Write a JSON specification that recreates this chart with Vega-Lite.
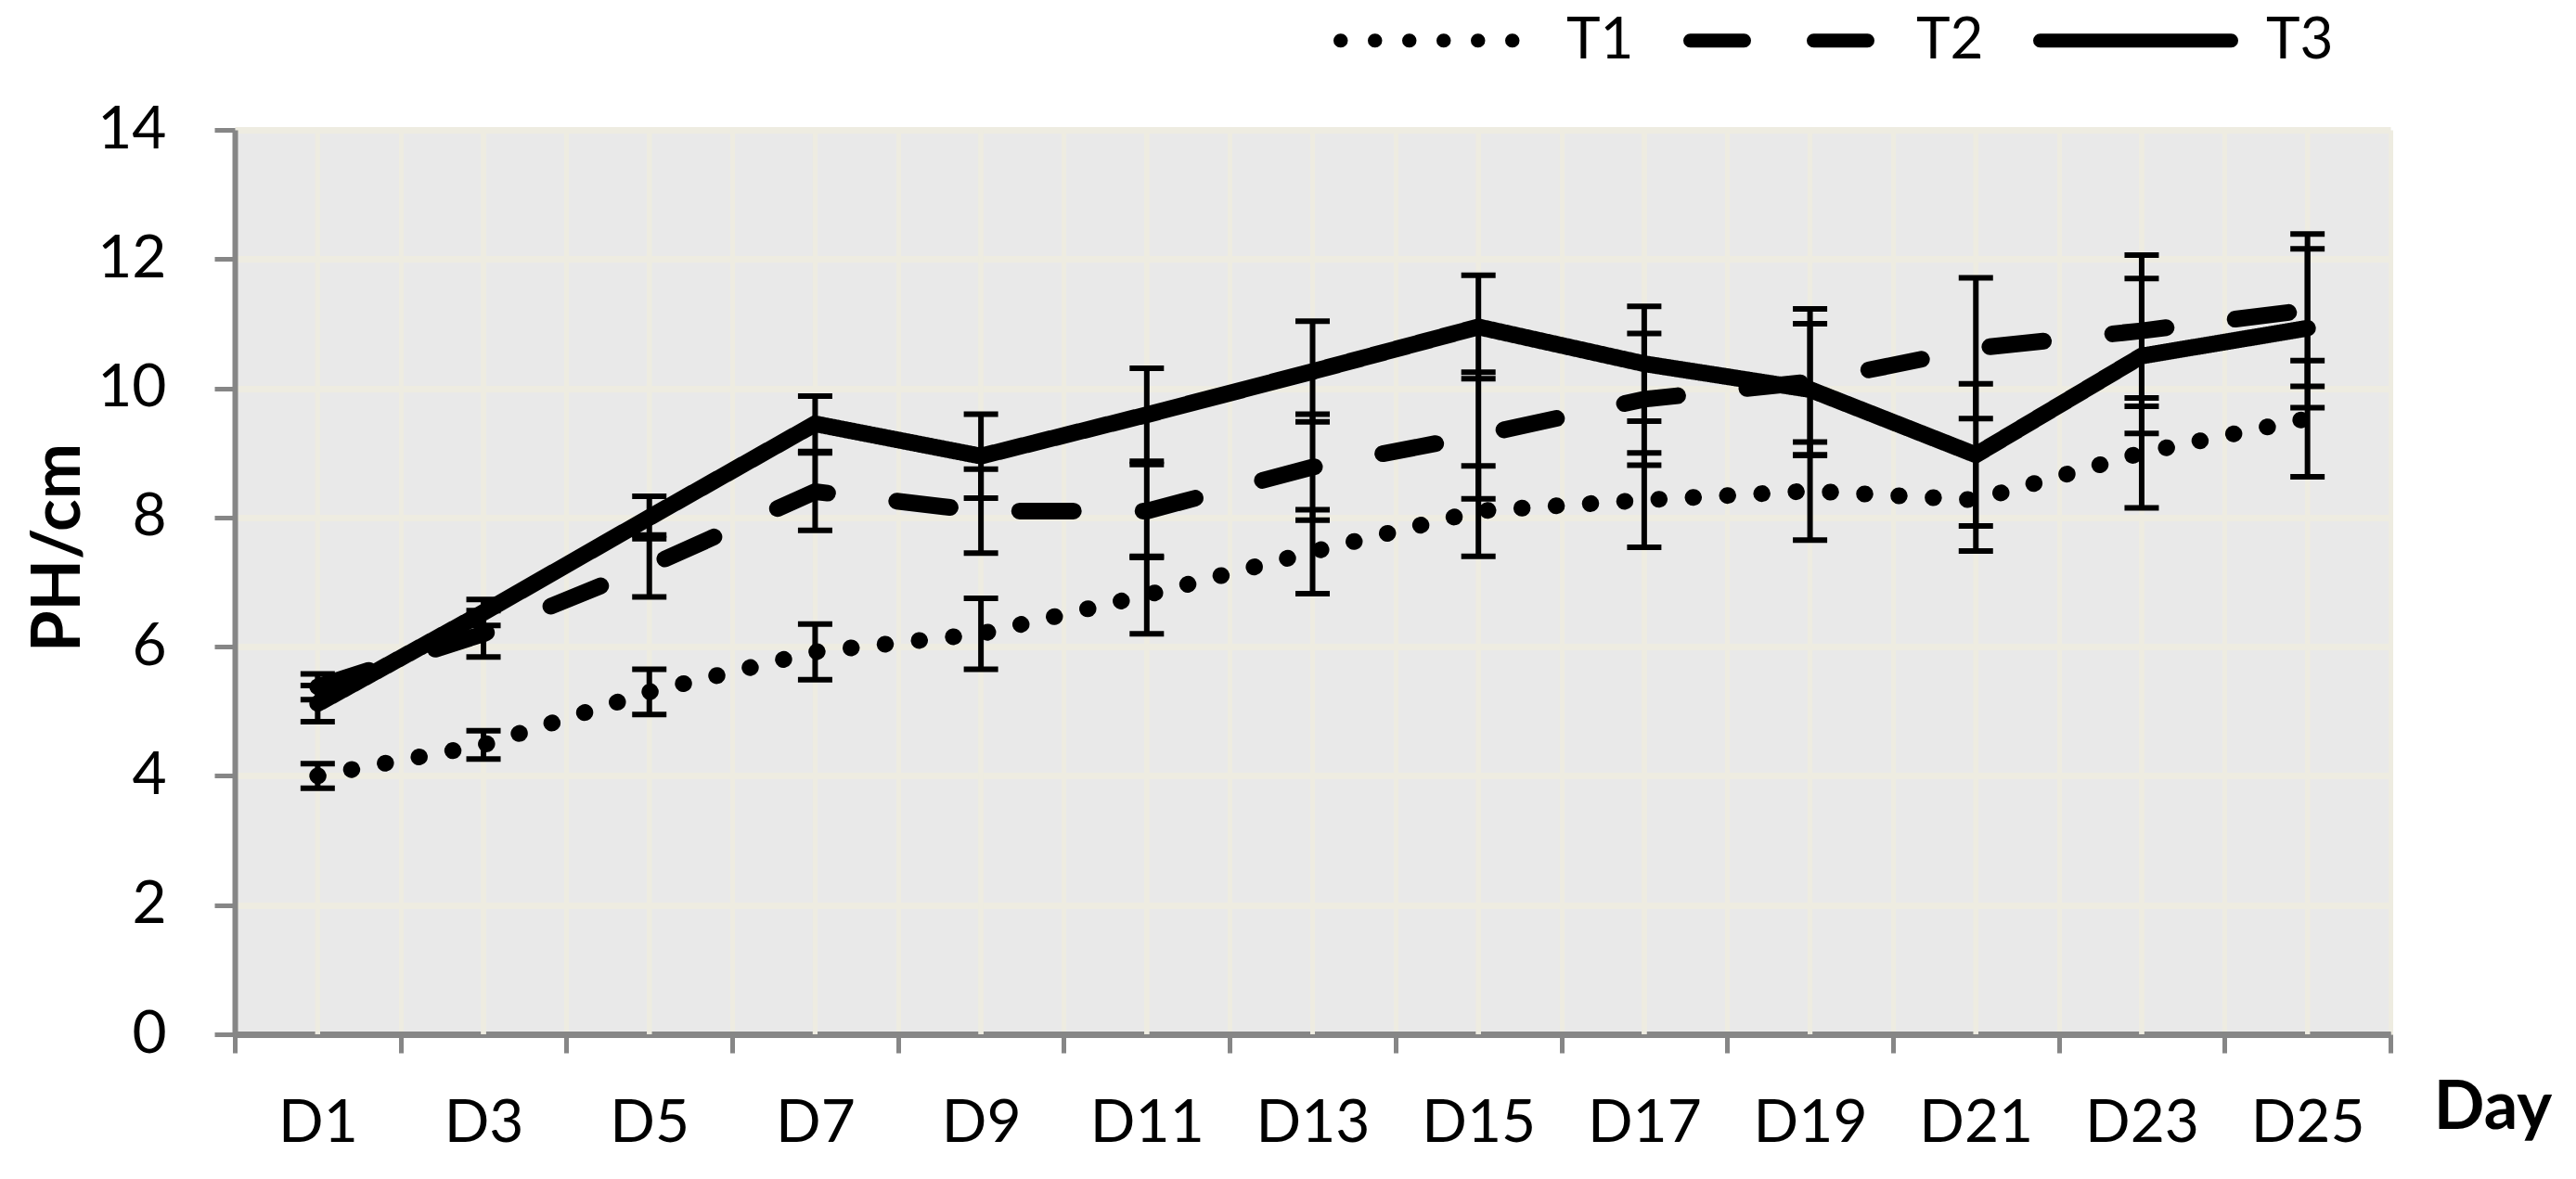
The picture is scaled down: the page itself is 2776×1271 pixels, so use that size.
{
  "$schema": "https://vega.github.io/schema/vega-lite/v6.json",
  "width": 2323,
  "height": 975,
  "autosize": {"type": "none"},
  "padding": {"left": 253, "top": 140, "right": 200, "bottom": 156},
  "background": "white",
  "config": {"view": {"stroke": null, "fill": "#e9e9e9"}, "font": "Lato"},
  "data": {
    "values": [
      {"day": "D1", "series": "T1", "value": 4.0, "err": 0.19},
      {"day": "D3", "series": "T1", "value": 4.48, "err": 0.22},
      {"day": "D5", "series": "T1", "value": 5.3, "err": 0.35},
      {"day": "D7", "series": "T1", "value": 5.92, "err": 0.43},
      {"day": "D9", "series": "T1", "value": 6.2, "err": 0.55},
      {"day": "D11", "series": "T1", "value": 6.8, "err": 0.6},
      {"day": "D13", "series": "T1", "value": 7.47, "err": 0.65},
      {"day": "D15", "series": "T1", "value": 8.1, "err": 0.7},
      {"day": "D17", "series": "T1", "value": 8.27, "err": 0.73},
      {"day": "D19", "series": "T1", "value": 8.41, "err": 0.76},
      {"day": "D21", "series": "T1", "value": 8.27, "err": 0.79},
      {"day": "D23", "series": "T1", "value": 9.0, "err": 0.85},
      {"day": "D25", "series": "T1", "value": 9.53, "err": 0.9},
      {"day": "D1", "series": "T2", "value": 5.38, "err": 0.2},
      {"day": "D3", "series": "T2", "value": 6.2, "err": 0.36},
      {"day": "D5", "series": "T2", "value": 7.25, "err": 0.48},
      {"day": "D7", "series": "T2", "value": 8.4, "err": 0.6},
      {"day": "D9", "series": "T2", "value": 8.1, "err": 0.65},
      {"day": "D11", "series": "T2", "value": 8.1, "err": 0.72},
      {"day": "D13", "series": "T2", "value": 8.78, "err": 0.82},
      {"day": "D15", "series": "T2", "value": 9.27, "err": 0.98},
      {"day": "D17", "series": "T2", "value": 9.83, "err": 1.02},
      {"day": "D19", "series": "T2", "value": 10.1, "err": 1.13},
      {"day": "D21", "series": "T2", "value": 10.62, "err": 1.09},
      {"day": "D23", "series": "T2", "value": 10.89, "err": 1.17},
      {"day": "D25", "series": "T2", "value": 11.21, "err": 1.18},
      {"day": "D1", "series": "T3", "value": 5.12, "err": 0.28},
      {"day": "D3", "series": "T3", "value": 6.53, "err": 0.2},
      {"day": "D5", "series": "T3", "value": 8.0, "err": 0.33},
      {"day": "D7", "series": "T3", "value": 9.45, "err": 0.43},
      {"day": "D9", "series": "T3", "value": 8.95, "err": 0.65},
      {"day": "D11", "series": "T3", "value": 9.59, "err": 0.72},
      {"day": "D13", "series": "T3", "value": 10.26, "err": 0.78},
      {"day": "D15", "series": "T3", "value": 10.95, "err": 0.8},
      {"day": "D17", "series": "T3", "value": 10.38, "err": 0.89},
      {"day": "D19", "series": "T3", "value": 9.98, "err": 1.02},
      {"day": "D21", "series": "T3", "value": 8.97, "err": 1.1},
      {"day": "D23", "series": "T3", "value": 10.5, "err": 1.2},
      {"day": "D25", "series": "T3", "value": 10.93, "err": 1.23}
    ]
  },
  "encoding": {
    "x": {
      "field": "day",
      "type": "ordinal",
      "sort": ["D1", "D3", "D5", "D7", "D9", "D11", "D13", "D15", "D17", "D19", "D21", "D23", "D25"],
      "scale": {"type": "band", "paddingInner": 0, "paddingOuter": 0},
      "axis": {
        "title": "Day",
        "labelAngle": 0,
        "tickBand": "extent",
        "grid": true,
        "gridColor": "#EEECE1",
        "gridWidth": 5,
        "domainColor": "#868686",
        "domainWidth": 6,
        "tickColor": "#868686",
        "tickWidth": 5,
        "tickSize": 20,
        "labelFont": "Lato",
        "labelFontSize": 64,
        "labelColor": "black",
        "labelPadding": 44,
        "titleFont": "Lato",
        "titleFontSize": 72,
        "titleFontWeight": "bold",
        "titleColor": "black",
        "titleX": 2433,
        "titleY": 101,
        "titleAlign": "center",
        "titleBaseline": "alphabetic"
      }
    }
  },
  "layer": [
    {
      "mark": {"type": "rule", "color": "#EEECE1", "strokeWidth": 5},
      "encoding": {
        "y": {"datum": 0, "type": "quantitative", "title": "PH/cm"},
        "y2": {"datum": 14}
      }
    },
    {
      "mark": {"type": "line", "color": "black", "strokeWidth": 18, "strokeCap": "round", "strokeJoin": "miter"},
      "encoding": {
        "y": {
          "field": "value",
          "type": "quantitative",
          "scale": {"domain": [0, 14], "nice": false},
          "axis": {
            "title": "PH/cm",
            "values": [0, 2, 4, 6, 8, 10, 12, 14],
            "format": "d",
            "grid": true,
            "gridColor": {"condition": {"test": "datum.value === 0", "value": "#868686"}, "value": "#EEECE1"},
            "gridWidth": 7,
            "domainColor": "#868686",
            "domainWidth": 6,
            "tickColor": "#868686",
            "tickWidth": 5,
            "tickSize": 22,
            "labelFont": "Lato",
            "labelFontSize": 64,
            "labelColor": "black",
            "labelPadding": 52,
            "titleFont": "Lato",
            "titleFontSize": 72,
            "titleFontWeight": "bold",
            "titleColor": "black",
            "titleX": -168,
            "titleY": 450,
            "titleAlign": "center",
            "titleBaseline": "alphabetic",
            "titleAngle": 270
          }
        },
        "strokeDash": {
          "field": "series",
          "type": "nominal",
          "scale": {"domain": ["T1", "T2", "T3"], "range": [[0.5, 36.5], [58, 75], [1, 0]]},
          "legend": {
            "orient": "none",
            "direction": "horizontal",
            "legendX": 1184,
            "legendY": -207,
            "title": null,
            "padding": 0,
            "symbolType": "stroke",
            "symbolSize": 42436,
            "symbolStrokeWidth": 15,
            "symbolStrokeColor": "black",
            "labelFont": "Lato",
            "labelFontSize": 62,
            "labelColor": "black",
            "labelOffset": 30,
            "columnPadding": 30,
            "encode": {"symbols": {"update": {"strokeCap": {"value": "round"}}}}
          }
        }
      }
    },
    {
      "mark": {"type": "errorbar", "ticks": {"size": 37, "thickness": 6, "color": "black", "opacity": 1}, "rule": {"strokeWidth": 6, "color": "black", "opacity": 1}, "color": "black", "opacity": 1},
      "encoding": {
        "y": {"field": "value", "type": "quantitative", "title": "PH/cm"},
        "yError": {"field": "err"}
      }
    }
  ]
}
